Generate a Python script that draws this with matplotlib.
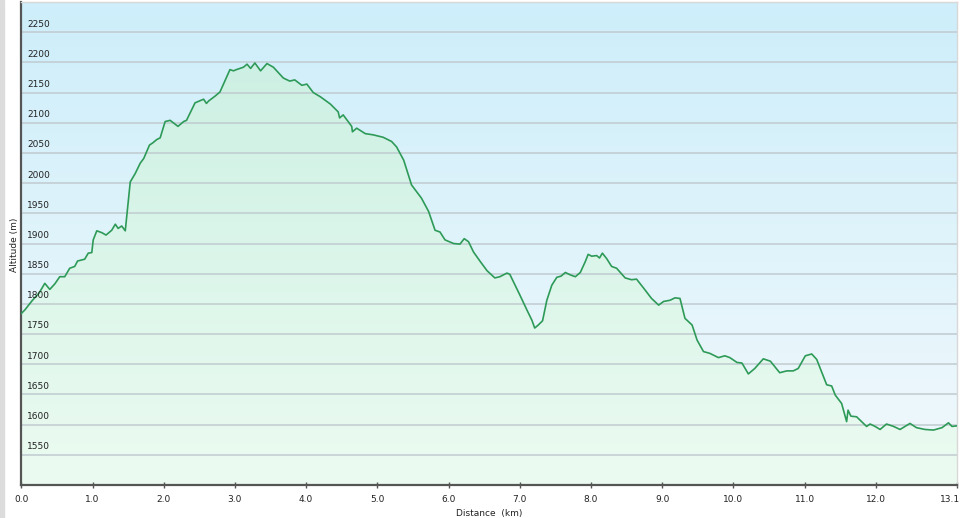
"""Elevation profile: altitude vs distance along the route."""

import matplotlib
matplotlib.use("Agg")
import matplotlib.pyplot as plt
import numpy as np
from matplotlib.colors import LinearSegmentedColormap
from matplotlib.patches import Polygon, Rectangle
from matplotlib.transforms import ScaledTranslation

# distance along the route (km)
DIST_KM = [
    0.00, 0.05, 0.15, 0.25, 0.33, 0.40, 0.47, 0.54, 0.61, 0.68, 0.75, 0.79,
    0.89, 0.94, 0.99, 1.01, 1.06, 1.13, 1.19, 1.27, 1.32, 1.36, 1.41, 1.46,
    1.49, 1.53, 1.60, 1.67, 1.72, 1.80, 1.85, 1.90, 1.95, 2.02, 2.09, 2.20,
    2.28, 2.32, 2.44, 2.56, 2.60, 2.63, 2.72, 2.79, 2.93, 2.98, 3.02, 3.12,
    3.17, 3.22, 3.28, 3.36, 3.45, 3.54, 3.68, 3.77, 3.84, 3.94, 4.01, 4.10,
    4.20, 4.34, 4.45, 4.47, 4.52, 4.64, 4.65, 4.71, 4.83, 4.94, 5.08, 5.20,
    5.27, 5.37, 5.48, 5.62, 5.72, 5.81, 5.88, 5.95, 6.07, 6.16, 6.22, 6.28,
    6.35, 6.44, 6.54, 6.65, 6.72, 6.82, 6.86, 7.00, 7.10, 7.17, 7.21, 7.26,
    7.32, 7.38, 7.45, 7.52, 7.58, 7.64, 7.71, 7.78, 7.85, 7.92, 7.96, 8.01,
    8.08, 8.12, 8.16, 8.22, 8.29, 8.36, 8.48, 8.57, 8.64, 8.74, 8.85, 8.95,
    9.02, 9.11, 9.18, 9.25, 9.32, 9.42, 9.49, 9.58, 9.67, 9.79, 9.88, 9.95,
    10.05, 10.12, 10.21, 10.30, 10.42, 10.52, 10.65, 10.75, 10.84, 10.91,
    11.01, 11.10, 11.17, 11.31, 11.38, 11.43, 11.52, 11.59, 11.61, 11.65,
    11.73, 11.80, 11.87, 11.92, 11.99, 12.06, 12.15, 12.25, 12.34, 12.48,
    12.57, 12.69, 12.81, 12.93, 13.02, 13.07, 13.14,
]

# altitude (m)
ALT_M = [
    1784, 1790, 1805, 1818, 1834, 1824, 1833, 1845, 1845, 1859, 1862, 1871,
    1874, 1884, 1885, 1906, 1921, 1918, 1914, 1922, 1932, 1925, 1929, 1921,
    1955, 2002, 2016, 2033, 2041, 2063, 2067, 2072, 2075, 2102, 2104, 2094,
    2102, 2104, 2133, 2139, 2132, 2136, 2144, 2151, 2188, 2186, 2188, 2192,
    2197, 2190, 2199, 2186, 2198, 2192, 2174, 2169, 2171, 2162, 2164, 2150,
    2143, 2131, 2118, 2108, 2113, 2094, 2085, 2091, 2082, 2080, 2076, 2069,
    2060, 2038, 1997, 1975, 1953, 1922, 1919, 1906, 1900, 1899, 1908, 1903,
    1886, 1871, 1855, 1843, 1845, 1851, 1849, 1815, 1790, 1773, 1760, 1765,
    1772, 1806, 1831, 1844, 1846, 1852, 1848, 1845, 1852, 1870, 1882, 1879,
    1880, 1876, 1884, 1875, 1862, 1859, 1843, 1840, 1841, 1826, 1809, 1798,
    1804, 1806, 1810, 1809, 1776, 1765, 1740, 1721, 1718, 1711, 1714, 1711,
    1703, 1702, 1684, 1693, 1709, 1705, 1686, 1689, 1689, 1693,
    1714, 1717, 1708, 1666, 1664, 1649, 1635, 1605, 1624, 1614,
    1613, 1605, 1597, 1601, 1597, 1592, 1601, 1597, 1592, 1602,
    1595, 1592, 1591, 1595, 1603, 1597, 1598,
]

Y_TICKS = [1550, 1600, 1650, 1700, 1750, 1800, 1850, 1900, 1950, 2000,
           2050, 2100, 2150, 2200, 2250]
X_TICKS = [0, 1, 2, 3, 4, 5, 6, 7, 8, 9, 10, 11, 12, 13.14]
X_TICK_LABELS = ["0.0", "1.0", "2.0", "3.0", "4.0", "5.0", "6.0", "7.0",
                 "8.0", "9.0", "10.0", "11.0", "12.0", "13.1"]

XMIN, XMAX = 0.0, 13.14
YMIN, YMAX = 1500, 2300

fig = plt.figure(figsize=(9.6, 5.18), dpi=100)
fig.patches.append(Rectangle((0, 0), 0.004, 1, transform=fig.transFigure,
                             color="#dcdcdc", zorder=0))
ax = fig.add_axes([21.3 / 960, 1 - 485 / 518, (957 - 21.3) / 960, 483 / 518])

# sky background gradient
bg = LinearSegmentedColormap.from_list("bg", ["#f2f9fc", "#cdeefa"])
grad = np.linspace(0, 1, 256).reshape(-1, 1)
ax.imshow(grad, cmap=bg, origin="lower", aspect="auto",
          extent=[XMIN, XMAX, YMIN, YMAX], zorder=0)

# green fill under the profile, gradient clipped to the area
fillmap = LinearSegmentedColormap.from_list("fill", ["#ecfbf1", "#c9efe2"])
img = ax.imshow(grad, cmap=fillmap, origin="lower", aspect="auto",
                extent=[XMIN, XMAX, YMIN, YMAX], zorder=1)
verts = [(DIST_KM[0], YMIN)] + list(zip(DIST_KM, ALT_M)) + [(DIST_KM[-1], YMIN)]
poly = Polygon(verts, closed=True, facecolor="none", edgecolor="none")
ax.add_patch(poly)
img.set_clip_path(poly)

for yv in Y_TICKS:
    ax.axhline(yv, color="#c0cbcf", lw=1.1, zorder=2)
    ax.text(0.08, yv + 6, str(yv), fontsize=6.5, color="#222222",
            ha="left", va="bottom", zorder=4)

ax.plot(DIST_KM, ALT_M, color="#2e9a58", lw=1.2, zorder=3)

ax.set_xlim(XMIN, XMAX)
ax.set_ylim(YMIN, YMAX)
ax.set_yticks([])
ax.set_xticks(X_TICKS)
ax.set_xticklabels(X_TICK_LABELS, fontsize=6.5, color="#222222")
ax.tick_params(axis="x", direction="inout", length=5, width=1,
               color="#555555", pad=5)
last = ax.get_xticklabels()[-1]
last.set_transform(last.get_transform()
                   + ScaledTranslation(-7 / 100, 0, fig.dpi_scale_trans))

for side in ("left", "bottom"):
    ax.spines[side].set_color("#555555")
    ax.spines[side].set_linewidth(1.6)
for side in ("top", "right"):
    ax.spines[side].set_color("#d8d8d8")
    ax.spines[side].set_linewidth(1.0)

ax.set_xlabel("Distance  (km)", fontsize=6.5, color="#222222", labelpad=3)
fig.text(15 / 960, 1 - 245 / 518, "Altitude (m)", rotation=90, fontsize=6.5,
         color="#222222", ha="center", va="center")

fig.savefig("out.png", dpi=100)
